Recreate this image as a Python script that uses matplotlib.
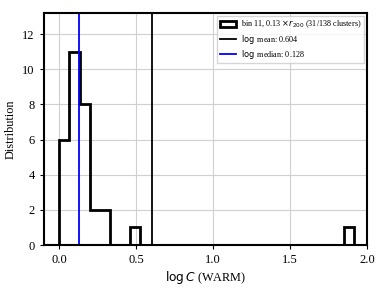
import numpy as np
import matplotlib
matplotlib.use("Agg")
import matplotlib.pyplot as plt

plt.rcParams["font.family"] = ["Liberation Serif", "DejaVu Serif"]
plt.rcParams["mathtext.fontset"] = "dejavusans"

# histogram of log C for bin 11
bin_lo = 0.0
bin_hi = 1.913
counts = [6, 11, 8, 2, 2, 0, 0, 1, 0, 0,
          0, 0, 0, 0, 0, 0, 0, 0, 0, 0,
          0, 0, 0, 0, 0, 0, 0, 0, 1]
log_mean = 0.604
log_median = 0.128
n_used = 31
n_total = 138

edges = np.linspace(bin_lo, bin_hi, len(counts) + 1)
centers = 0.5 * (edges[:-1] + edges[1:])

fig = plt.figure(figsize=(3.88, 2.91), dpi=100)
ax = fig.add_axes([0.113, 0.158, 0.833, 0.797])

ax.hist(centers, bins=edges, weights=counts, histtype="step", color="black", lw=2,
        label=r"bin 11, 0.13 $\times r_{200}$ (%d/%d clusters)" % (n_used, n_total))
ax.axvline(log_mean, color="black", lw=1.3, label=r"$\log$ mean: %.3f" % log_mean)
ax.axvline(log_median, color="blue", lw=1.3, label=r"$\log$ median: %.3f" % log_median)

ax.set_xlim(-0.1, 2.0)
ax.set_ylim(0, 1.2 * max(counts))
ax.set_xticks([0.0, 0.5, 1.0, 1.5, 2.0])
ax.set_yticks([0, 2, 4, 6, 8, 10, 12])
ax.grid(True, color="#d0d0d0", lw=0.8)
ax.set_axisbelow(True)
ax.tick_params(labelsize=9, length=3)
for s in ax.spines.values():
    s.set_linewidth(1.5)

ax.set_xlabel(r"$\log C$ (WARM)", fontsize=8.8, labelpad=2)
ax.set_ylabel("Distribution", fontsize=8.8)
ax.legend(loc="upper right", fontsize=5.9, frameon=True, framealpha=0.8, borderpad=0.35,
          handlelength=1.9, handletextpad=0.6, labelspacing=0.25, fancybox=False,
          borderaxespad=0.35)

fig.savefig("out.png", dpi=100)
